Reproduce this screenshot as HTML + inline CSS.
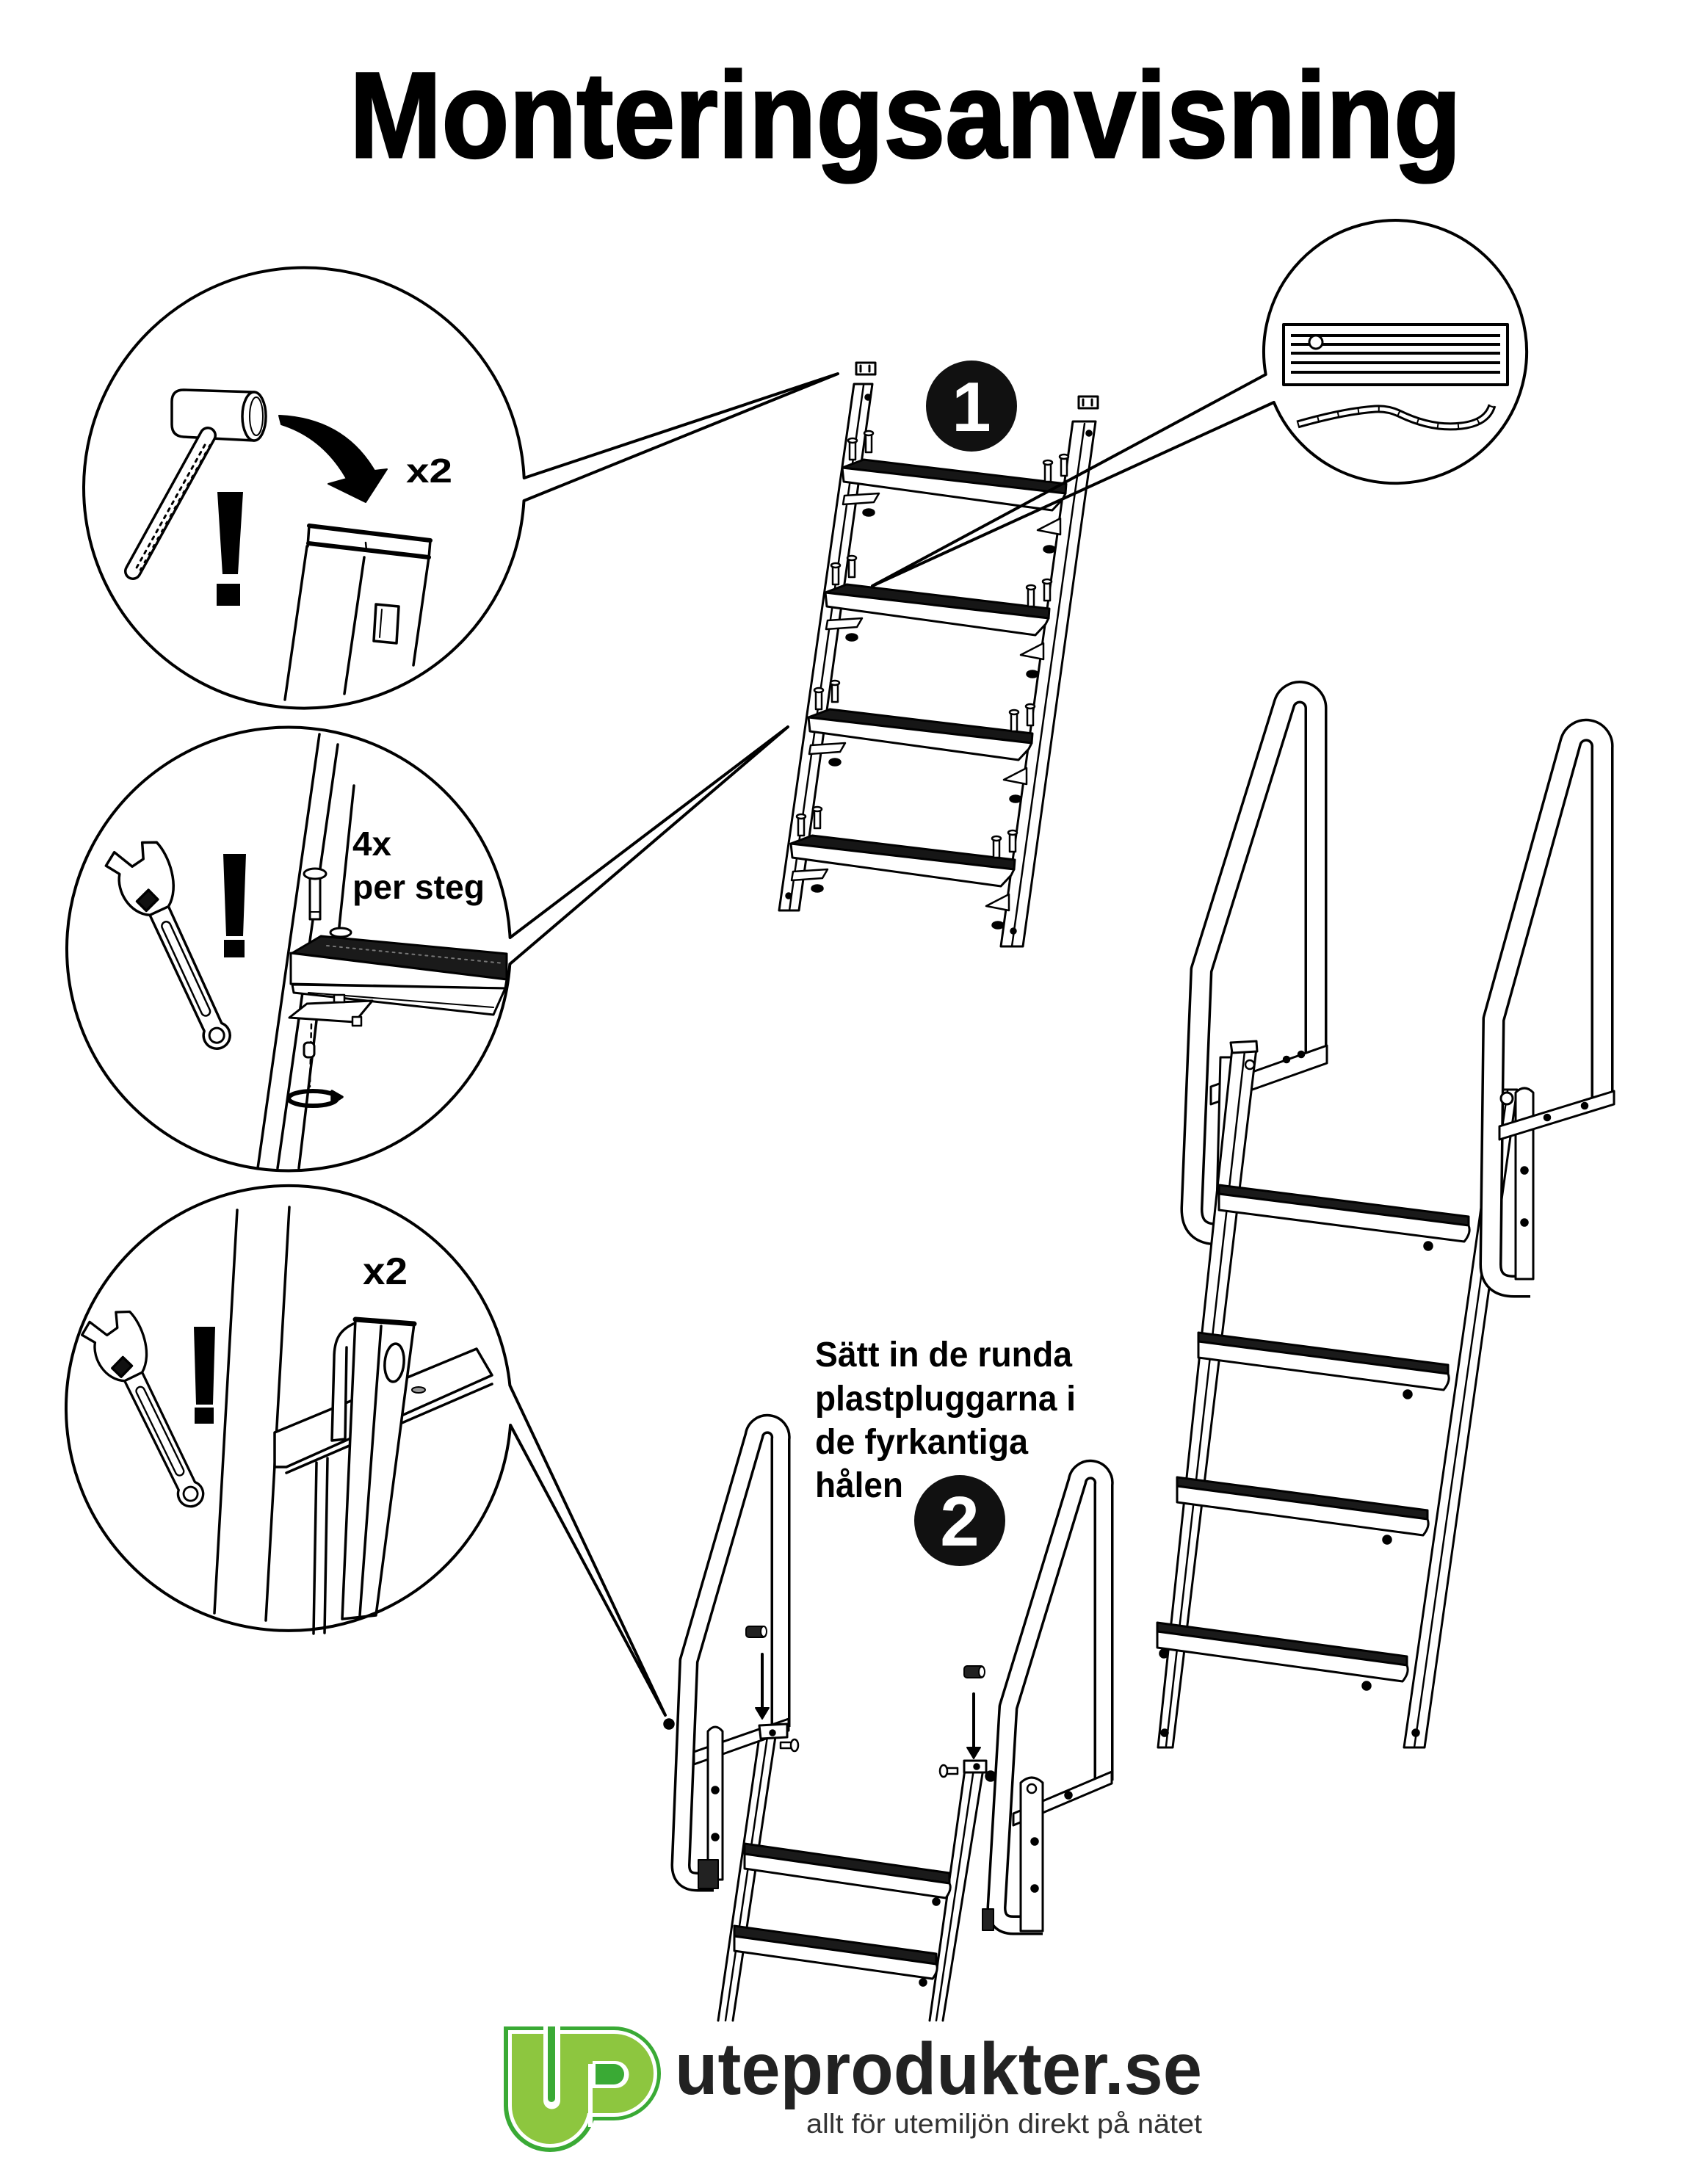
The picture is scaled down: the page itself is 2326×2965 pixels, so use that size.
<!DOCTYPE html>
<html><head><meta charset="utf-8">
<style>
html,body{margin:0;padding:0;background:#fff;}
svg{display:block;}
</style></head>
<body>
<svg xmlns="http://www.w3.org/2000/svg" width="2326" height="2965" viewBox="0 0 2326 2965">
<rect width="2326" height="2965" fill="#fff"/>
<defs>
 <g id="wrench">
  <path d="M-14 25 L-13 202.6 A18 18 0 1 0 13 202.6 L14 25 Z" fill="#fff" stroke="#000" stroke-width="3.5"/>
  <rect x="-6" y="45" width="12" height="140" rx="6" fill="#fff" stroke="#000" stroke-width="2.5"/>
  <circle cx="0" cy="215" r="10" fill="#fff" stroke="#000" stroke-width="3"/>
  <path d="M-14 28 C-38 15 -42 -20 -28 -40 L-40 -58 L-22 -70 L-8 -42 L10 -45 L18 -66 L36 -58 C44 -35 40 10 14 28 Z" fill="#fff" stroke="#000" stroke-width="3.5" stroke-linejoin="round"/>
  <rect x="-22" y="-4" width="22" height="18" fill="#111" transform="rotate(-20)"/>
 </g>
 <g id="pin">
  <rect x="-4" y="0" width="8" height="26" fill="#fff" stroke="#000" stroke-width="2.5"/>
  <ellipse cx="0" cy="0" rx="6" ry="3" fill="#fff" stroke="#000" stroke-width="2.5"/>
 </g>
 <g id="l1step">
  <polygon points="1176,626 1452,659 1451,672 1147,637" fill="#161616" stroke="#000" stroke-width="3"/>
  <polygon points="1147,637 1451,672 1447,680 1433,695 1149,656" fill="#fff" stroke="#000" stroke-width="3" stroke-linejoin="round"/>
  <use href="#pin" x="1161" y="600"/>
  <use href="#pin" x="1183" y="590"/>
  <use href="#pin" x="1427" y="630"/>
  <use href="#pin" x="1449" y="622"/>
  <polygon points="1150,675 1197,672 1190,684 1148,687" fill="#fff" stroke="#000" stroke-width="2.5"/>
  <ellipse cx="1183" cy="698" rx="7" ry="4" fill="#000"/>
  <polygon points="1413,722 1444,706 1444,728" fill="#fff" stroke="#000" stroke-width="2.5"/>
  <ellipse cx="1429" cy="748" rx="7" ry="4" fill="#000"/>
 </g>
</defs>

<!-- TITLE -->
<text x="476" y="214" font-family="Liberation Sans, Arial, sans-serif" font-weight="700" font-size="166" textLength="1514" lengthAdjust="spacingAndGlyphs" fill="#000" stroke="#000" stroke-width="3">Monteringsanvisning</text>

<g fill="none" stroke="#000" stroke-width="3.5" stroke-linejoin="round" stroke-linecap="round">

<!-- ============ CIRCLE 1 CONTENT (hammer) ============ -->
<path d="M250 531 L346 534 L346 600 L250 595 Q234 594 234 578 L234 547 Q234 531 250 531 Z" fill="#fff"/>
<ellipse cx="346" cy="567" rx="16" ry="33" fill="#fff"/>
<ellipse cx="349" cy="567" rx="9" ry="26" stroke-width="2"/>
<line x1="283" y1="593" x2="181" y2="778" stroke-width="24"/>
<line x1="283" y1="593" x2="181" y2="778" stroke="#fff" stroke-width="17"/>
<line x1="279" y1="606" x2="185" y2="775" stroke-width="3" stroke-dasharray="4 7"/>
<line x1="286" y1="606" x2="190" y2="778" stroke-width="2.5" stroke-dasharray="3 9"/>
<path d="M380 566 Q468 570 510 641 L527 639 L498 684 L447 659 L472 652 Q440 596 383 578 Z" fill="#000" stroke-width="2"/>
<polygon points="296,670 331,670 324,782 303,782" fill="#000" stroke="none"/>
<rect x="295" y="795" width="32" height="30" fill="#000" stroke="none"/>
<!-- post -->
<line x1="421" y1="716" x2="586" y2="736" stroke-width="6"/>
<line x1="420" y1="740" x2="584" y2="759" stroke-width="6"/>
<line x1="421" y1="716" x2="419" y2="744"/>
<line x1="586" y1="736" x2="584" y2="760"/>
<line x1="498" y1="739" x2="499" y2="749" stroke-width="2.5"/>
<line x1="418" y1="744" x2="388" y2="953"/>
<line x1="496" y1="759" x2="469" y2="945"/>
<line x1="584" y1="759" x2="563" y2="906"/>
<polygon points="512,823 543,826 540,876 509,873" fill="#fff"/>
<line x1="520" y1="830" x2="517" y2="868" stroke-width="2"/>

<!-- ============ CIRCLE 2 CONTENT ============ -->
<line x1="435" y1="1000" x2="351" y2="1591"/>
<line x1="460" y1="1014" x2="378" y2="1591"/>
<line x1="482" y1="1070" x2="462" y2="1262"/>
<line x1="431" y1="1390" x2="407" y2="1591"/>
<!-- bolt -->
<rect x="422" y="1192" width="14" height="60" fill="#fff" stroke-width="3"/>
<ellipse cx="429" cy="1190" rx="15" ry="7" fill="#fff" stroke-width="3"/>
<line x1="423" y1="1242" x2="435" y2="1242" stroke-width="2"/>
<!-- tread -->
<ellipse cx="464" cy="1270" rx="14" ry="6" fill="#fff" stroke-width="3"/>
<polygon points="437,1275 690,1299 690,1334 398,1298" fill="#1a1a1a" stroke-width="3"/>
<line x1="445" y1="1288" x2="686" y2="1312" stroke="#777" stroke-width="2" stroke-dasharray="3 6"/>
<polygon points="396,1298 690,1334 688,1346 396,1340" fill="#fff" stroke-width="3"/>
<polygon points="398,1341 688,1346 672,1382 400,1352" fill="#fff" stroke-width="3"/>
<line x1="420" y1="1352" x2="672" y2="1372" stroke-width="2"/>
<!-- plate under tread -->
<polygon points="394,1386 418,1367 507,1363 483,1392" fill="#fff" stroke-width="3"/>
<rect x="455" y="1355" width="14" height="10" fill="#fff" stroke-width="2.5"/>
<rect x="480" y="1385" width="12" height="12" fill="#fff" stroke-width="2.5"/>
<line x1="424" y1="1395" x2="422" y2="1480" stroke-width="2.5" stroke-dasharray="6 6"/>
<rect x="414" y="1420" width="14" height="20" rx="5" fill="#fff" stroke-width="3"/>
<ellipse cx="426" cy="1496" rx="33" ry="10" stroke-width="6"/>
<polygon points="452,1486 466,1494 452,1503" fill="#000"/>
<use href="#wrench" transform="translate(205,1215) rotate(-24.8)"/>
<polygon points="304,1163 335,1163 331,1275 308,1275" fill="#000" stroke="none"/>
<rect x="305" y="1280" width="28" height="24" fill="#000" stroke="none"/>

<!-- ============ CIRCLE 3 CONTENT ============ -->
<line x1="323" y1="1648" x2="292" y2="2197"/>
<line x1="394" y1="1644" x2="362" y2="2207"/>
<polygon points="374,1951 649,1837 670,1873 390,1998 374,1998" fill="#fff"/>
<line x1="390" y1="2006" x2="670" y2="1885"/>
<line x1="431" y1="1992" x2="427" y2="2225"/>
<line x1="446" y1="1986" x2="442" y2="2224"/>
<ellipse cx="570" cy="1893" rx="9" ry="4" fill="#999" stroke-width="2"/>
<path d="M486 1801 C462 1810 455 1825 455 1850 L452 1962 L470 1960 L472 1835" fill="#fff"/>
<polygon points="484,1797 564,1803 512,2200 466,2205" fill="#fff"/>
<line x1="484" y1="1797" x2="564" y2="1803" stroke-width="7"/>
<line x1="519" y1="1806" x2="490" y2="2200"/>
<ellipse cx="537" cy="1856" rx="13" ry="26" fill="#fff" transform="rotate(5 537 1856)"/>
<use href="#wrench" transform="translate(170,1851) rotate(-26) scale(0.95)"/>
<polygon points="264,1807 293,1807 290,1913 267,1913" fill="#000" stroke="none"/>
<rect x="265" y="1917" width="26" height="22" fill="#000" stroke="none"/>

<!-- ============ CIRCLE 4 CONTENT ============ -->
<rect x="1748" y="442" width="305" height="82" stroke-width="4"/>
<g stroke-width="4" stroke-linecap="butt">
<line x1="1758" y1="457" x2="2043" y2="457"/>
<line x1="1758" y1="469" x2="2043" y2="469"/>
<line x1="1758" y1="481" x2="2043" y2="481"/>
<line x1="1758" y1="494" x2="2043" y2="494"/>
<line x1="1758" y1="507" x2="2043" y2="507"/>
</g>
<circle cx="1792" cy="466" r="9" fill="#fff" stroke-width="3"/>
<path d="M1767 578 Q1830 560 1873 557 Q1890 556 1905 563 Q1950 585 1990 580 Q2025 576 2032 552" stroke-width="11" stroke-linecap="butt"/>
<path d="M1767 578 Q1830 560 1873 557 Q1890 556 1905 563 Q1950 585 1990 580 Q2025 576 2032 552" stroke="#fff" stroke-width="5" stroke-linecap="butt"/>
<path d="M1767 578 Q1830 560 1873 557 Q1890 556 1905 563 Q1950 585 1990 580 Q2025 576 2032 552" stroke-width="6" stroke-linecap="butt" stroke-dasharray="2 26"/>

<!-- ============ LADDER 1 ============ -->
<polygon points="1163,523 1188,523 1088,1240 1061,1240" fill="#fff" stroke-width="3"/>
<line x1="1176" y1="525" x2="1075" y2="1240" stroke-width="2.5"/>
<polygon points="1461,574 1492,574 1393,1289 1363,1289" fill="#fff" stroke-width="3"/>
<line x1="1477" y1="577" x2="1378" y2="1289" stroke-width="2.5"/>
<circle cx="1182" cy="541" r="3" fill="#000"/>
<circle cx="1483" cy="590" r="3" fill="#000"/>
<circle cx="1380" cy="1268" r="3" fill="#000"/>
<circle cx="1074" cy="1220" r="3" fill="#000"/>
<rect x="1166" y="494" width="26" height="16" fill="#fff" stroke-width="3"/>
<line x1="1172" y1="498" x2="1172" y2="506" stroke-width="3"/>
<line x1="1184" y1="498" x2="1184" y2="506" stroke-width="3"/>
<rect x="1469" y="540" width="26" height="16" fill="#fff" stroke-width="3"/>
<line x1="1475" y1="544" x2="1475" y2="552" stroke-width="3"/>
<line x1="1487" y1="544" x2="1487" y2="552" stroke-width="3"/>
<use href="#l1step"/>
<use href="#l1step" transform="translate(-23,170)"/>
<use href="#l1step" transform="translate(-46,340)"/>
<use href="#l1step" transform="translate(-70,512)"/>

<!-- ============ BIG LADDER ============ -->
<!-- right rail (behind) -->
<polygon points="2040,1484 2066,1484 1940,2380 1912,2380" fill="#fff" stroke-width="3"/>
<line x1="2053" y1="1486" x2="1926" y2="2380" stroke-width="2.5"/>
<circle cx="1928" cy="2360" r="4" fill="#000"/>
<!-- left handrail -->
<path d="M1792 1440 L1792 965 A22 22 0 0 0 1749 958 L1636 1321 L1623 1645 Q1622 1681 1658 1681" stroke-width="31" stroke-linecap="butt"/>
<path d="M1792 1440 L1792 965 A22 22 0 0 0 1749 958 L1636 1321 L1623 1645 Q1622 1681 1658 1681" stroke="#fff" stroke-width="24" stroke-linecap="butt"/>
<!-- left plate -->
<polygon points="1649,1480 1807,1424 1807,1448 1649,1504" fill="#fff" stroke-width="3"/>
<circle cx="1752" cy="1443" r="3.5" fill="#000"/>
<circle cx="1772" cy="1436" r="3.5" fill="#000"/>
<polygon points="1662,1440 1678,1440 1672,1682 1656,1682" fill="#fff" stroke-width="3"/>
<!-- left rail -->
<polygon points="1678,1428 1711,1428 1597,2380 1577,2380" fill="#fff" stroke-width="3"/>
<line x1="1695" y1="1432" x2="1588" y2="2378" stroke-width="2.5"/>
<polygon points="1676,1420 1711,1418 1712,1432 1678,1434" fill="#fff" stroke-width="3"/>
<circle cx="1702" cy="1450" r="6" fill="#fff" stroke-width="2.5"/>
<circle cx="1586" cy="2360" r="4" fill="#000"/>
<!-- right handrail -->
<path d="M2182 1500 L2182 1018 A22 22 0 0 0 2139 1010 L2034 1388 L2030 1722 Q2030 1752 2062 1752 L2084 1752" stroke-width="31" stroke-linecap="butt"/>
<path d="M2182 1500 L2182 1018 A22 22 0 0 0 2139 1010 L2034 1388 L2030 1722 Q2030 1752 2062 1752 L2084 1752" stroke="#fff" stroke-width="24" stroke-linecap="butt"/>
<!-- right plates -->
<path d="M2064 1742 L2064 1488 Q2076 1476 2088 1488 L2088 1742 Z" fill="#fff" stroke-width="3"/>
<circle cx="2076" cy="1594" r="4" fill="#000"/>
<circle cx="2076" cy="1665" r="4" fill="#000"/>
<polygon points="2042,1534 2198,1486 2198,1504 2042,1552" fill="#fff" stroke-width="3"/>
<circle cx="2107" cy="1522" r="3.5" fill="#000"/>
<circle cx="2158" cy="1506" r="3.5" fill="#000"/>
<circle cx="2052" cy="1496" r="8" fill="#fff" stroke-width="3"/>
<!-- treads -->
<polygon points="1660,1614 2000,1657 2000,1669 1660,1626" fill="#1a1a1a" stroke-width="3"/>
<path d="M1660 1626 L2000 1669 Q2004 1679 1994 1691 L1660 1648 Z" fill="#fff" stroke-width="3"/>
<circle cx="1945" cy="1697" r="5" fill="#000"/>
<polygon points="1632,1815 1972,1859 1972,1871 1632,1827" fill="#1a1a1a" stroke-width="3"/>
<path d="M1632 1827 L1972 1871 Q1976 1881 1966 1893 L1632 1849 Z" fill="#fff" stroke-width="3"/>
<circle cx="1917" cy="1899" r="5" fill="#000"/>
<polygon points="1603,2012 1944,2057 1944,2069 1603,2024" fill="#1a1a1a" stroke-width="3"/>
<path d="M1603 2024 L1944 2069 Q1948 2079 1938 2091 L1603 2046 Z" fill="#fff" stroke-width="3"/>
<circle cx="1889" cy="2097" r="5" fill="#000"/>
<polygon points="1576,2210 1916,2256 1916,2268 1576,2222" fill="#1a1a1a" stroke-width="3"/>
<path d="M1576 2222 L1916 2268 Q1920 2278 1910 2290 L1576 2244 Z" fill="#fff" stroke-width="3"/>
<circle cx="1861" cy="2296" r="5" fill="#000"/>
<circle cx="1585" cy="2252" r="5" fill="#000"/>

<!-- ============ LADDER 2 ============ -->
<!-- rails -->
<line x1="1036" y1="2352" x2="978" y2="2752" stroke-width="3"/>
<line x1="1047" y1="2352" x2="988" y2="2752" stroke-width="2.5"/>
<line x1="1058" y1="2352" x2="998" y2="2752" stroke-width="3"/>
<line x1="1315" y1="2403" x2="1266" y2="2752" stroke-width="3"/>
<line x1="1327" y1="2403" x2="1275" y2="2752" stroke-width="2.5"/>
<line x1="1340" y1="2403" x2="1284" y2="2752" stroke-width="3"/>
<!-- left handrail -->
<path d="M1063 2352 L1063 1960 A18 18 0 0 0 1027 1955 L938 2262 L927 2540 Q927 2563 950 2563 L972 2563" stroke-width="27" stroke-linecap="butt"/>
<path d="M1063 2352 L1063 1960 A18 18 0 0 0 1027 1955 L938 2262 L927 2540 Q927 2563 950 2563 L972 2563" stroke="#fff" stroke-width="20" stroke-linecap="butt"/>
<!-- right handrail -->
<path d="M1503 2425 L1503 2022 A18 18 0 0 0 1467 2017 L1373 2325 L1357 2598 Q1357 2622 1380 2622 L1420 2622" stroke-width="27" stroke-linecap="butt"/>
<path d="M1503 2425 L1503 2022 A18 18 0 0 0 1467 2017 L1373 2325 L1357 2598 Q1357 2622 1380 2622 L1420 2622" stroke="#fff" stroke-width="20" stroke-linecap="butt"/>
<!-- left plates -->
<polygon points="945,2386 1074,2341 1074,2357 945,2403" fill="#fff" stroke-width="3"/>
<path d="M964 2560 L964 2358 Q974 2346 984 2358 L984 2560 Z" fill="#fff" stroke-width="3"/>
<circle cx="974" cy="2438" r="4" fill="#000"/>
<circle cx="974" cy="2502" r="4" fill="#000"/>
<rect x="951" y="2533" width="27" height="39" fill="#222" stroke-width="2"/>
<polygon points="1034,2350 1072,2348 1072,2366 1036,2368" fill="#fff" stroke-width="3"/>
<circle cx="1052" cy="2360" r="3" fill="#000"/>
<!-- right plates -->
<polygon points="1380,2470 1514,2413 1514,2429 1380,2486" fill="#fff" stroke-width="3"/>
<path d="M1390 2630 L1390 2428 Q1405 2414 1420 2428 L1420 2630 Z" fill="#fff" stroke-width="3"/>
<circle cx="1405" cy="2436" r="6" fill="#fff" stroke-width="2.5"/>
<circle cx="1409" cy="2508" r="4" fill="#000"/>
<circle cx="1409" cy="2572" r="4" fill="#000"/>
<circle cx="1455" cy="2445" r="4" fill="#000"/>
<rect x="1338" y="2600" width="15" height="29" fill="#222" stroke-width="2"/>
<rect x="1313" y="2398" width="30" height="16" fill="#fff" stroke-width="3"/>
<circle cx="1330" cy="2406" r="3" fill="#000"/>
<!-- treads -->
<polygon points="1014,2511 1293,2551 1293,2565 1014,2525" fill="#1a1a1a" stroke-width="3"/>
<path d="M1014 2525 L1293 2565 Q1297 2573 1288 2585 L1014 2545 Z" fill="#fff" stroke-width="3"/>
<circle cx="1275" cy="2590" r="4" fill="#000"/>
<polygon points="1000,2623 1275,2661 1275,2675 1000,2637" fill="#1a1a1a" stroke-width="3"/>
<path d="M1000 2637 L1275 2675 Q1279 2683 1270 2695 L1000 2657 Z" fill="#fff" stroke-width="3"/>
<circle cx="1257" cy="2700" r="4" fill="#000"/>
<!-- plugs & arrows -->
<rect x="1016" y="2215" width="27" height="15" rx="4" fill="#222" stroke-width="2"/>
<ellipse cx="1040" cy="2222" rx="4" ry="7" fill="#fff" stroke-width="2"/>
<rect x="1313" y="2269" width="27" height="16" rx="4" fill="#222" stroke-width="2"/>
<ellipse cx="1337" cy="2277" rx="4" ry="7" fill="#fff" stroke-width="2"/>
<line x1="1038" y1="2253" x2="1038" y2="2328" stroke-width="4"/>
<polygon points="1029,2326 1047,2326 1038,2341" fill="#000" stroke-width="2"/>
<line x1="1326" y1="2307" x2="1326" y2="2381" stroke-width="4"/>
<polygon points="1317,2380 1335,2380 1326,2395" fill="#000" stroke-width="2"/>
<!-- bolts -->
<rect x="1063" y="2373" width="16" height="8" fill="#fff" stroke-width="2.5"/>
<ellipse cx="1082" cy="2377" rx="5" ry="8" fill="#fff" stroke-width="2.5"/>
<rect x="1288" y="2408" width="16" height="8" fill="#fff" stroke-width="2.5"/>
<ellipse cx="1285" cy="2412" rx="5" ry="8" fill="#fff" stroke-width="2.5"/>
<circle cx="911" cy="2348" r="6" fill="#000"/>
<circle cx="1349" cy="2419" r="6" fill="#000"/>

<!-- ============ CALLOUT BUBBLES ============ -->
<path d="M713.7 651 A300 300 0 1 0 713.5 682 L1141 509 Z" stroke-width="4"/>
<path d="M694.6 1277 A302 302 0 1 0 694.3 1313 L1073 990 Z" stroke-width="4"/>
<path d="M694.4 1887 A303 303 0 1 0 695.1 1941 L906 2336 Z" stroke-width="4"/>
<path d="M1723.7 510 A179 179 0 1 1 1734.8 548 L1188 798 Z" stroke-width="4"/>
</g>

<!-- badges -->
<circle cx="1323" cy="553" r="62" fill="#111"/>
<text x="1323" y="587" text-anchor="middle" font-family="Liberation Sans, Arial, sans-serif" font-weight="700" font-size="96" fill="#fff">1</text>
<circle cx="1307" cy="2071" r="62" fill="#111"/>
<text x="1307" y="2105" text-anchor="middle" font-family="Liberation Sans, Arial, sans-serif" font-weight="700" font-size="96" fill="#fff">2</text>

<!-- circle texts -->
<g font-family="Liberation Sans, Arial, sans-serif" font-weight="700" fill="#000">
<text x="553" y="657" font-size="46" textLength="63" lengthAdjust="spacingAndGlyphs">x2</text>
<text x="494" y="1749" font-size="52" textLength="61" lengthAdjust="spacingAndGlyphs">x2</text>
<text x="480" y="1165" font-size="46" textLength="53" lengthAdjust="spacingAndGlyphs">4x</text>
<text x="480" y="1224" font-size="46" textLength="180" lengthAdjust="spacingAndGlyphs">per steg</text>
<text x="1110" y="1861" font-size="48" textLength="350" lengthAdjust="spacingAndGlyphs">Sätt in de runda</text>
<text x="1110" y="1921" font-size="48" textLength="355" lengthAdjust="spacingAndGlyphs">plastpluggarna i</text>
<text x="1110" y="1980" font-size="48" textLength="290" lengthAdjust="spacingAndGlyphs">de fyrkantiga</text>
<text x="1110" y="2039" font-size="48" textLength="120" lengthAdjust="spacingAndGlyphs">hålen</text>
</g>

<!-- LOGO -->
<g transform="translate(686,2760)">
 <path d="M0 0 H126 V108 A63 63 0 0 1 0 108 Z" fill="#3aaa35"/>
 <path d="M96 0 H150 A64 64 0 0 1 150 128 H96 Z" fill="#3aaa35"/>
 <path d="M6 5 H120 V108 A57 57 0 0 1 6 108 Z" fill="#fff"/>
 <path d="M96 5 H150 A59 59 0 0 1 150 123 H96 Z" fill="#fff"/>
 <path d="M11 10 H115 V108 A52 52 0 0 1 11 108 Z" fill="#8dc63f"/>
 <path d="M96 10 H150 A54 54 0 0 1 150 118 H96 Z" fill="#8dc63f"/>
 <path d="M54 0 H77 V101 A11.5 11.5 0 0 1 54 101 Z" fill="#fff"/>
 <path d="M60 0 H70 V98 A5 5 0 0 1 60 98 Z" fill="#3aaa35"/>
 <rect x="115" y="51" width="6" height="86" fill="#fff"/>
 <path d="M121 47 H152 A18 18 0 0 1 152 84 H121 Z" fill="#fff"/>
 <path d="M125 51 H150 A14 14 0 0 1 150 79 H125 Z" fill="#3aaa35"/>
</g>
<text x="919" y="2852" font-family="Liberation Sans, Arial, sans-serif" font-weight="700" font-size="100" textLength="718" lengthAdjust="spacingAndGlyphs" fill="#222">uteprodukter.se</text>
<text x="1098" y="2905" font-family="Liberation Sans, Arial, sans-serif" font-size="37" textLength="539" lengthAdjust="spacingAndGlyphs" fill="#333">allt för utemiljön direkt på nätet</text>
</svg>
</body></html>
